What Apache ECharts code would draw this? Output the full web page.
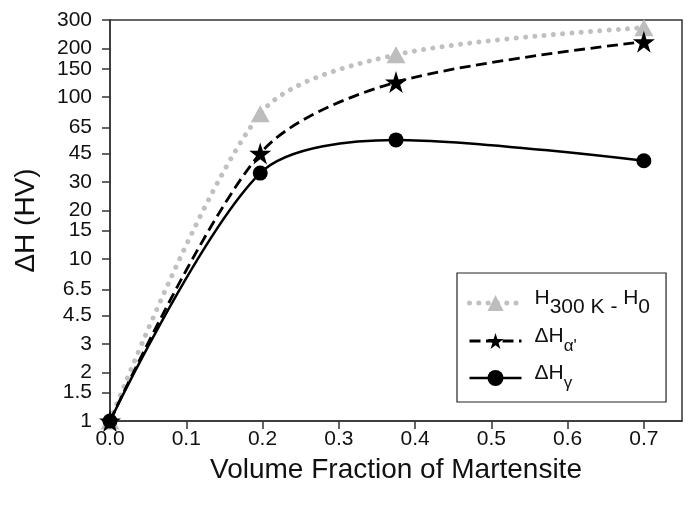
<!DOCTYPE html>
<html>
<head>
<meta charset="utf-8">
<script src="https://cdn.jsdelivr.net/npm/echarts@6/dist/echarts.min.js"></script>
<style>
html,body{margin:0;padding:0;background:#fff;}
#c{width:689px;height:508px;}
</style>
</head>
<body>
<div id="c"></div>
<script>
var xValues = [0, 0.197, 0.375, 0.7];
var hTotal = [1, 79, 183, 269];
var dHalpha = [1, 45, 124, 220];
var dHgamma = [1, 34, 54.5, 40.5];
var yTicks = [1, 1.5, 2, 3, 4.5, 6.5, 10, 15, 20, 30, 45, 65, 100, 150, 200, 300];
var xTicks = [0, 0.1, 0.2, 0.3, 0.4, 0.5, 0.6, 0.7];
var seriesNames = ['H300 K - H0', "ΔHα'", 'ΔHγ'];
var legendRich = {};
legendRich[seriesNames[0]] = '{h|H}{s|300 K - }{h2|H}{s|0}';
legendRich[seriesNames[1]] = "{h|ΔH}{a|α'}";
legendRich[seriesNames[2]] = '{h|ΔH}{a|γ}';

function pairs(xs, ys) { return xs.map(function (x, i) { return [x, ys[i]]; }); }

var FONT = '"Liberation Sans", Arial, sans-serif';
var STAR = 'path://M50,0 L61.2,34.5 L97.6,34.5 L68.2,55.9 L79.4,90.5 L50,69.1 L20.6,90.5 L31.8,55.9 L2.4,34.5 L38.8,34.5 Z';
var grayLine = {color: '#c0c0c0', width: 5, type: [0.01, 9.3], cap: 'round'};
var dashLine = {color: '#000', width: 2.8, type: [11, 5.5]};
var solidLine = {color: '#000', width: 2.5, type: 'solid'};

var chart = echarts.init(document.getElementById('c'), null, {renderer: 'canvas'});
chart.setOption({
  animation: false,
  backgroundColor: '#fff',
  grid: {left: 110, right: 7, top: 20, bottom: 87, show: true, borderColor: '#333', borderWidth: 1.5,
    containLabel: false, outerBoundsMode: 'none'},
  xAxis: {
    type: 'value', min: 0, max: 0.75,
    name: 'Volume Fraction of Martensite', nameLocation: 'middle', nameGap: 35,
    nameTextStyle: {fontFamily: FONT, fontSize: 28, color: '#111'},
    axisLine: {show: true, lineStyle: {color: '#333', width: 1.5}},
    axisTick: {show: true, inside: false, length: 8, lineStyle: {color: '#333', width: 1.5}, customValues: xTicks},
    axisLabel: {fontFamily: FONT, fontSize: 21, color: '#111', margin: 8, customValues: xTicks,
      formatter: function (v) { return v.toFixed(1); }},
    splitLine: {show: false}
  },
  yAxis: {
    type: 'log', logBase: 10, min: 1, max: 300,
    name: 'ΔH (HV)', nameLocation: 'middle', nameGap: 70,
    nameTextStyle: {fontFamily: FONT, fontSize: 28, color: '#111'},
    axisLine: {show: true, lineStyle: {color: '#333', width: 1.5}},
    axisTick: {show: true, inside: false, length: 8, lineStyle: {color: '#333', width: 1.5}, customValues: yTicks},
    axisLabel: {fontFamily: FONT, fontSize: 21, color: '#111', margin: 18, customValues: yTicks,
      formatter: function (v) { return String(v); }},
    splitLine: {show: false},
    minorTick: {show: false}
  },
  legend: {
    orient: 'vertical', left: 457, top: 273,
    borderColor: '#222', borderWidth: 1.2, padding: [15, 16, 10, 10],
    itemWidth: 52, itemHeight: 20, itemGap: 8,
    data: [
      {name: seriesNames[0], lineStyle: grayLine},
      {name: seriesNames[1], lineStyle: dashLine},
      {name: seriesNames[2], lineStyle: solidLine}
    ],
    formatter: function (name) { return legendRich[name]; },
    textStyle: {
      fontFamily: FONT, fontSize: 20, color: '#111',
      rich: {
        h: {fontFamily: FONT, fontSize: 21, color: '#111', padding: [0, 0, 9, 8]},
        h2: {fontFamily: FONT, fontSize: 21, color: '#111', padding: [0, 0, 9, 0]},
        s: {fontFamily: FONT, fontSize: 21, color: '#111', padding: [9, 0, 0, 0]},
        a: {fontFamily: FONT, fontSize: 17, color: '#111', padding: [11, 0, 0, 0]}
      }
    }
  },
  series: [
    {
      name: seriesNames[0], type: 'line', data: pairs(xValues, hTotal), smooth: 0.3,
      symbol: 'triangle', symbolSize: [19, 17],
      lineStyle: grayLine,
      itemStyle: {color: '#bdbdbd'}, z: 2
    },
    {
      name: seriesNames[1], type: 'line', data: pairs(xValues, dHalpha), smooth: 0.3,
      symbol: STAR, symbolSize: 22,
      lineStyle: dashLine,
      itemStyle: {color: '#000'}, z: 3
    },
    {
      name: seriesNames[2], type: 'line', data: pairs(xValues, dHgamma), smooth: 0.3,
      symbol: 'circle', symbolSize: 15,
      lineStyle: solidLine,
      itemStyle: {color: '#000'}, z: 4
    }
  ]
});
</script>
</body>
</html>
